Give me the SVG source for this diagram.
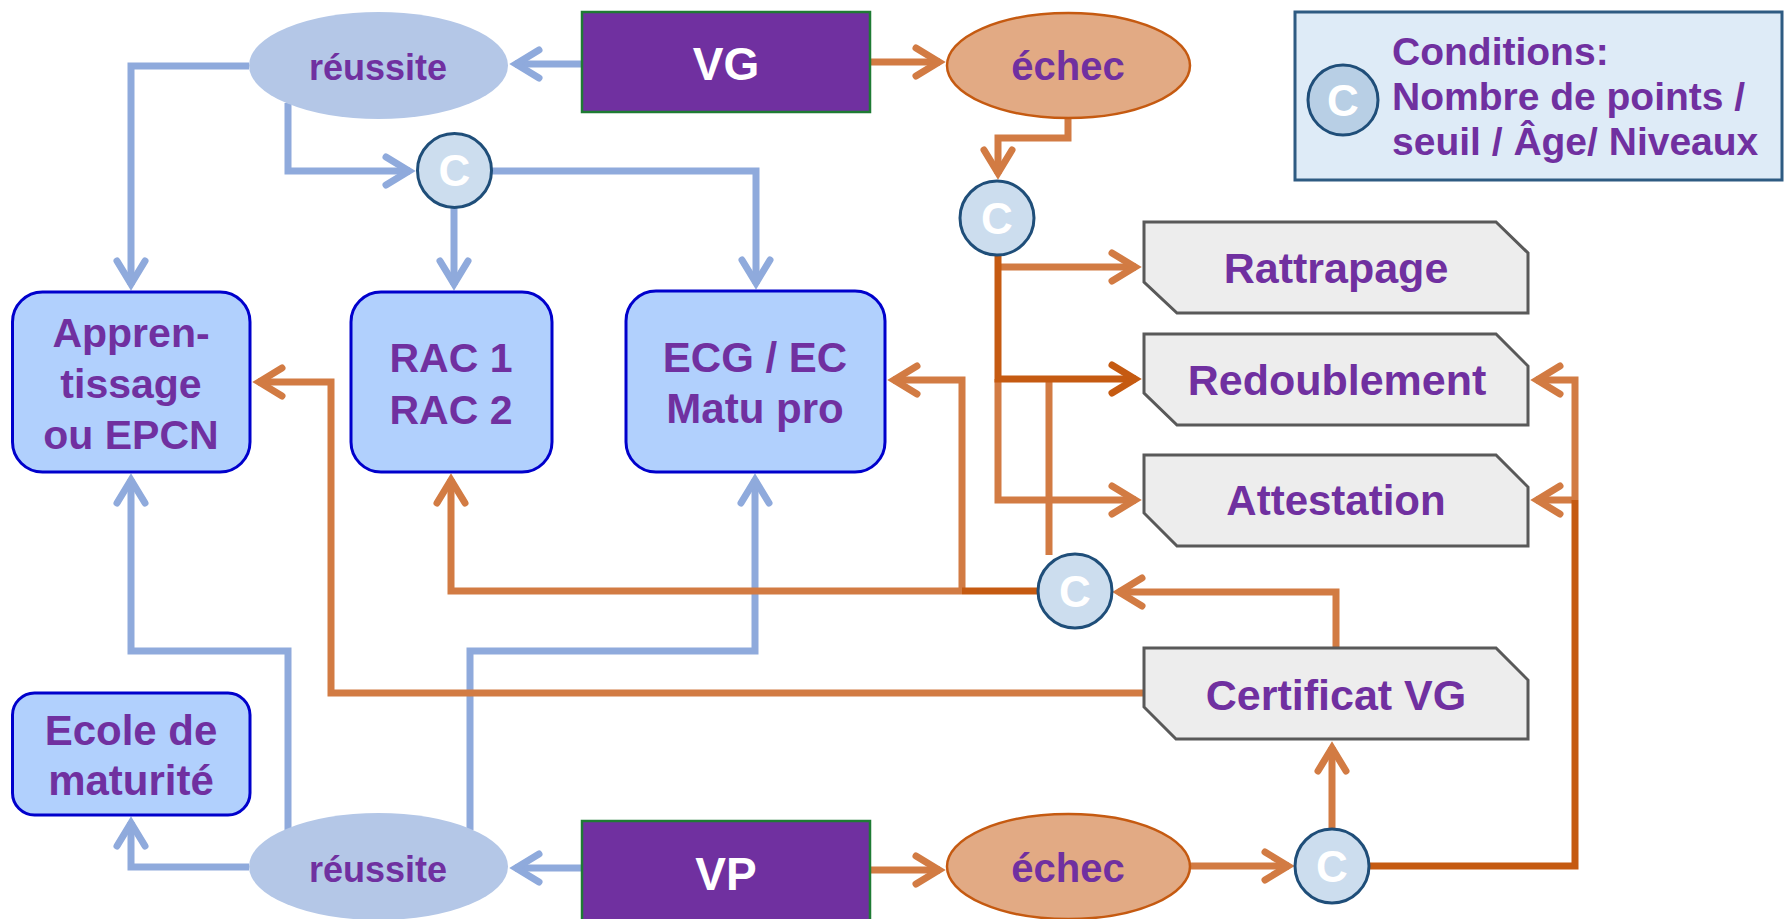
<svg xmlns="http://www.w3.org/2000/svg" width="1785" height="919" viewBox="0 0 1785 919">
<style>
.t{font-family:"Liberation Sans",Arial,sans-serif;font-weight:bold;fill:#7030A0;text-anchor:middle}
.s{text-anchor:start}
.w{fill:#FFFFFF}
.box{fill:#B1D0FD;stroke:#0000CC;stroke-width:3}
.grey{fill:#EDEDED;stroke:#595959;stroke-width:3}
.ok{fill:#B4C7E7}
.ko{fill:#E2AA84;stroke:#C55A11;stroke-width:2.5}
.v{fill:#7030A0;stroke:#1E7B34;stroke-width:2.5}
.c{fill:#CCDDEE;stroke:#1F4E79;stroke-width:3}
.lb{fill:none;stroke:#8FAADC;stroke-width:7}
.lo{fill:none;stroke:#D27B43;stroke-width:7}
.ld{fill:none;stroke:#C55A11;stroke-width:7}
</style>
<defs>
<marker id="mb" markerUnits="userSpaceOnUse" markerWidth="50" markerHeight="50" viewBox="-30 -25 50 50" refX="0" refY="0" orient="auto" overflow="visible">
<path d="M-24,-14 L-1,0 L-24,14" fill="none" stroke="#8FAADC" stroke-width="7" stroke-linecap="round" stroke-linejoin="miter"/>
</marker>
<marker id="mo" markerUnits="userSpaceOnUse" markerWidth="50" markerHeight="50" viewBox="-30 -25 50 50" refX="0" refY="0" orient="auto" overflow="visible">
<path d="M-24,-14 L-1,0 L-24,14" fill="none" stroke="#D27B43" stroke-width="7" stroke-linecap="round" stroke-linejoin="miter"/>
</marker>
<marker id="md" markerUnits="userSpaceOnUse" markerWidth="50" markerHeight="50" viewBox="-30 -25 50 50" refX="0" refY="0" orient="auto" overflow="visible">
<path d="M-24,-14 L-1,0 L-24,14" fill="none" stroke="#C55A11" stroke-width="7" stroke-linecap="round" stroke-linejoin="miter"/>
</marker>
</defs>
<rect width="1785" height="919" fill="#FFFFFF"/>

<g id="connectors">
<path class="lb" d="M582,64 H515" marker-end="url(#mb)"/>
<path class="lb" d="M249,66 H131 V285" marker-end="url(#mb)"/>
<path class="lb" d="M288,103 V171 H410" marker-end="url(#mb)"/>
<path class="lb" d="M454,208 V285" marker-end="url(#mb)"/>
<path class="lb" d="M492,171 H756 V284" marker-end="url(#mb)"/>
<path class="lb" d="M582,868 H515" marker-end="url(#mb)"/>
<path class="lb" d="M249,867 H131 V822" marker-end="url(#mb)"/>
<path class="lb" d="M288,830 V651 H131 V479" marker-end="url(#mb)"/>
<path class="lb" d="M470,830 V651 H755 V479" marker-end="url(#mb)"/>

<path class="lo" d="M870,62 H940" marker-end="url(#mo)"/>
<path class="lo" d="M1068,118 V138 H998 V174" marker-end="url(#mo)"/>
<path class="lo" d="M998,267 H1136" marker-end="url(#mo)"/>
<path class="lo" d="M998,379 V500 H1136" marker-end="url(#mo)"/>
<path class="lo" d="M1049,555 V379"/>
<path class="lo" d="M962,591 V380 H893" marker-end="url(#mo)"/>
<path class="lo" d="M962,591 H451 V479" marker-end="url(#mo)"/>
<path class="lo" d="M1336,648 V592 H1118" marker-end="url(#mo)"/>
<path class="lo" d="M1144,693 H331 V382 H258" marker-end="url(#mo)"/>
<path class="lo" d="M870,870 H940" marker-end="url(#mo)"/>
<path class="lo" d="M1190,866 H1289" marker-end="url(#mo)"/>
<path class="lo" d="M1332,829 V747" marker-end="url(#mo)"/>
<path class="lo" d="M1575,500 H1536" marker-end="url(#mo)"/>
<path class="lo" d="M1575,500 V380 H1536" marker-end="url(#mo)"/>

<path class="ld" d="M998,255 V379 H1136" marker-end="url(#md)"/>
<path class="ld" d="M1038,591 H962"/>
<path class="ld" d="M1369,866 H1575 V500"/>
</g>

<g id="vg">
<rect class="v" x="582" y="12" width="288" height="100"/>
<text class="t w" x="726" y="80" font-size="46">VG</text>
</g>
<g id="reussite-vg">
<ellipse class="ok" cx="378.5" cy="65.5" rx="129.5" ry="53.5"/>
<text class="t" x="378" y="80" font-size="36">réussite</text>
</g>
<g id="echec-vg">
<ellipse class="ko" cx="1068.5" cy="65.5" rx="121.5" ry="52.5"/>
<text class="t" x="1068" y="80" font-size="40">échec</text>
</g>
<g id="c1">
<circle class="c" cx="454.5" cy="170.5" r="37"/>
<text class="t w" x="454.5" y="186" font-size="44">C</text>
</g>
<g id="c2">
<circle class="c" cx="997" cy="218" r="37"/>
<text class="t w" x="997" y="234" font-size="44">C</text>
</g>
<g id="c3">
<circle class="c" cx="1075" cy="591" r="37"/>
<text class="t w" x="1075" y="607" font-size="44">C</text>
</g>
<g id="c4">
<circle class="c" cx="1332" cy="866" r="37"/>
<text class="t w" x="1332" y="882" font-size="44">C</text>
</g>

<g id="legend">
<rect x="1295" y="12" width="487" height="168" fill="#DEEBF7" stroke="#2E5B82" stroke-width="3"/>
<circle cx="1343" cy="100" r="35" fill="#B8CFE5" stroke="#1F4E79" stroke-width="3"/>
<text class="t w" x="1343" y="116" font-size="44">C</text>
<text class="t s" x="1392" y="65" font-size="39">Conditions:</text>
<text class="t s" x="1392" y="110" font-size="39">Nombre de points /</text>
<text class="t s" x="1392" y="155" font-size="39">seuil / Âge/ Niveaux</text>
</g>

<g id="apprentissage">
<rect class="box" x="12.5" y="292" width="237.5" height="180" rx="30"/>
<text class="t" x="131" y="347" font-size="41">Appren-</text>
<text class="t" x="131" y="398" font-size="41">tissage</text>
<text class="t" x="131" y="449" font-size="41">ou EPCN</text>
</g>
<g id="rac">
<rect class="box" x="351" y="292" width="201" height="180" rx="30"/>
<text class="t" x="451" y="372" font-size="41">RAC 1</text>
<text class="t" x="451" y="424" font-size="41">RAC 2</text>
</g>
<g id="ecg">
<rect class="box" x="626" y="291" width="259" height="181" rx="30"/>
<text class="t" x="755" y="372" font-size="42">ECG / EC</text>
<text class="t" x="755" y="423" font-size="42">Matu pro</text>
</g>
<g id="ecole">
<rect class="box" x="12.5" y="693" width="237.5" height="122" rx="22"/>
<text class="t" x="131" y="745" font-size="42">Ecole de</text>
<text class="t" x="131" y="795" font-size="42">maturité</text>
</g>

<g id="rattrapage">
<polygon class="grey" points="1144,222 1496,222 1528,253 1528,313 1177,313 1144,282"/>
<text class="t" x="1336" y="283" font-size="43">Rattrapage</text>
</g>
<g id="redoublement">
<polygon class="grey" points="1144,334 1496,334 1528,366 1528,425 1177,425 1144,393"/>
<text class="t" x="1337" y="395" font-size="43">Redoublement</text>
</g>
<g id="attestation">
<polygon class="grey" points="1144,455 1496,455 1528,487 1528,546 1177,546 1144,513"/>
<text class="t" x="1336" y="515" font-size="42">Attestation</text>
</g>
<g id="certificat">
<polygon class="grey" points="1144,648 1496,648 1528,680 1528,739 1176,739 1144,707"/>
<text class="t" x="1336" y="710" font-size="43">Certificat VG</text>
</g>

<g id="vp">
<rect class="v" x="582" y="821" width="288" height="100"/>
<text class="t w" x="726" y="890" font-size="46">VP</text>
</g>
<g id="reussite-vp">
<ellipse class="ok" cx="378.5" cy="866.5" rx="129.5" ry="53.5"/>
<text class="t" x="378" y="882" font-size="36">réussite</text>
</g>
<g id="echec-vp">
<ellipse class="ko" cx="1068.5" cy="866.5" rx="121.5" ry="52.5"/>
<text class="t" x="1068" y="882" font-size="40">échec</text>
</g>
</svg>
